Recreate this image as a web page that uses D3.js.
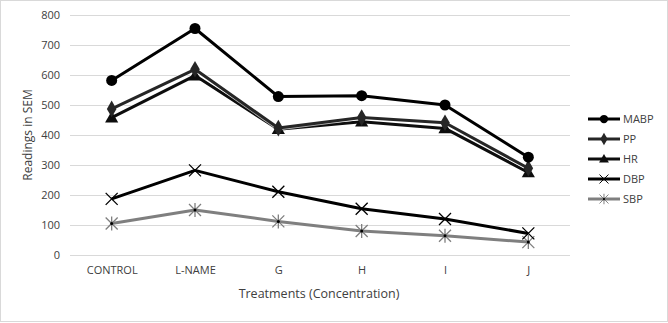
<!DOCTYPE html>
<html>
<head>
<meta charset="utf-8">
<script src="https://cdn.jsdelivr.net/npm/d3@7"></script>
<style>
  body { margin: 0; background: #fff; }
  text { font-family: "Open Sans", "Liberation Sans", sans-serif; fill: #404040; }
</style>
</head>
<body>
<script>
// treatments on the x axis
var categories = ["CONTROL", "L-NAME", "G", "H", "I", "J"];
var yTicks = [0, 100, 200, 300, 400, 500, 600, 700, 800];

// readings per treatment
var mabp = [582, 755, 528, 531, 500, 326];
var pp   = [487, 619, 423, 458, 441, 289];
var hr   = [458, 598, 419, 444, 422, 275];
var dbp  = [187, 282, 211, 154, 120, 72];
var sbp  = [105, 150, 112, 80, 64, 43];

var series = [
  {name: "MABP", values: mabp, color: "#000000", marker: "circle"},
  {name: "PP",   values: pp,   color: "#262626", marker: "diamond"},
  {name: "HR",   values: hr,   color: "#0d0d0d", marker: "triangle"},
  {name: "DBP",  values: dbp,  color: "#000000", marker: "cross"},
  {name: "SBP",  values: sbp,  color: "#7f7f7f", marker: "star"}
];

var width = 668, height = 323;
var plot = {left: 70, right: 570, top: 15, bottom: 255};

var svg = d3.select("body").append("svg")
    .attr("width", width)
    .attr("height", height);

svg.append("rect")
    .attr("x", 0.5).attr("y", 0.5)
    .attr("width", width - 1).attr("height", height - 2)
    .attr("fill", "#fff")
    .attr("stroke", "#d9d9d9");

var x = d3.scalePoint()
    .domain(categories)
    .range([plot.left, plot.right])
    .padding(0.5);

var y = d3.scaleLinear()
    .domain([0, 800])
    .range([plot.bottom, plot.top]);

// gridlines + y labels
var yAxis = d3.axisLeft(y)
    .tickValues(yTicks)
    .tickSize(-(plot.right - plot.left))
    .tickPadding(10);

var gy = svg.append("g")
    .attr("transform", "translate(" + plot.left + ",0)")
    .call(yAxis);
gy.select(".domain").remove();
gy.selectAll("line").attr("stroke", "#d9d9d9").attr("stroke-width", 1);
gy.selectAll("text").style("font-size", "11px").attr("fill", "#404040");

var xAxis = d3.axisBottom(x).tickSize(0).tickPadding(11);
var gx = svg.append("g")
    .attr("transform", "translate(0," + plot.bottom + ")")
    .call(xAxis);
gx.select(".domain").remove();
gx.selectAll("text").style("font-size", "11px").attr("fill", "#404040");

svg.append("text")
    .attr("transform", "translate(32," + ((plot.top + plot.bottom) / 2) + ") rotate(-90)")
    .attr("text-anchor", "middle")
    .style("font-size", "12px")
    .text("Readings in SEM");

svg.append("text")
    .attr("x", (plot.left + plot.right) / 2 - 1)
    .attr("y", 298)
    .attr("text-anchor", "middle")
    .style("font-size", "12.5px")
    .text("Treatments (Concentration)");

function drawMarker(g, type, cx, cy, color) {
  if (type == "circle") {
    g.append("circle").attr("cx", cx).attr("cy", cy).attr("r", 5.5)
      .attr("fill", color);
  } else if (type == "diamond") {
    g.append("path").attr("d", d3.symbol(d3.symbolDiamond, 80)())
      .attr("transform", "translate(" + cx + "," + cy + ")")
      .attr("fill", color);
  } else if (type == "triangle") {
    g.append("path").attr("d", d3.symbol(d3.symbolTriangle, 75)())
      .attr("transform", "translate(" + cx + "," + (cy + 1) + ")")
      .attr("fill", color);
  } else if (type == "cross") {
    g.append("path").attr("d", "M-6,-6L6,6M-6,6L6,-6")
      .attr("transform", "translate(" + cx + "," + cy + ")")
      .attr("stroke", color).attr("stroke-width", 1.3).attr("fill", "none");
  } else if (type == "star") {
    g.append("path").attr("d", "M-6,-6L6,6M-6,6L6,-6M0,-7L0,7")
      .attr("transform", "translate(" + cx + "," + cy + ")")
      .attr("stroke", color).attr("stroke-width", 1.3).attr("fill", "none");
    g.append("circle").attr("cx", cx).attr("cy", cy).attr("r", 1.5).attr("fill", "#000");
  }
}

var line = d3.line()
    .x(function(d, i) { return x(categories[i]); })
    .y(function(d) { return y(d); });

// draw from bottom series up so the top lines sit on top
series.slice().reverse().forEach(function(s) {
  var g = svg.append("g");
  g.append("path")
      .datum(s.values)
      .attr("d", line)
      .attr("fill", "none")
      .attr("stroke", "#ffffff")
      .attr("stroke-width", 4.5)
      .attr("stroke-opacity", 0.7);
  g.append("path")
      .datum(s.values)
      .attr("d", line)
      .attr("fill", "none")
      .attr("stroke", s.color)
      .attr("stroke-width", 3)
      .attr("stroke-linejoin", "round");
  s.values.forEach(function(v, i) {
    drawMarker(g, s.marker, x(categories[i]), y(v), s.color);
  });
});

// legend
var legend = svg.append("g").attr("transform", "translate(588,119)");
series.forEach(function(s, i) {
  var row = legend.append("g").attr("transform", "translate(0," + (i * 20) + ")");
  row.append("line")
      .attr("x1", 0).attr("x2", 32)
      .attr("stroke", s.color).attr("stroke-width", 3);
  var mg = row.append("g").attr("transform", "scale(0.75) translate(21.3,0)");
  drawMarker(mg, s.marker, 0, 0, s.color);
  row.append("text")
      .attr("x", 35).attr("y", 4)
      .style("font-size", "11px")
      .text(s.name);
});
</script>
</body>
</html>
